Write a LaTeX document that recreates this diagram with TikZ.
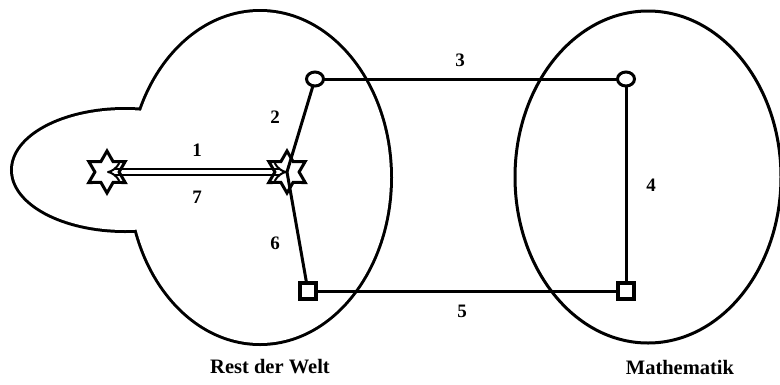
\documentclass[tikz,border=0pt]{standalone}
\usepackage{fontspec}
\setmainfont{Liberation Serif}
\usetikzlibrary{shapes.geometric,arrows.meta}
\newcommand\myhexstar[1]{%
  \draw[starline,shift={(#1)}] (90:21pt) -- (120:12.1pt) -- (150:21pt) -- (180:12.1pt) -- (210:21pt) -- (240:12.1pt)
   -- (270:21pt) -- (300:12.1pt) -- (330:21pt) -- (0:12.1pt) -- (30:21pt) -- (60:12.1pt) -- cycle;}
\begin{document}
\begin{tikzpicture}[x=1pt,y=-1pt,
 outline/.style={line width=6pt},
 conn/.style={line width=3pt},
 starline/.style={line width=3pt,line join=miter},
 circnode/.style={draw,ellipse,fill=white,minimum width=17pt,minimum height=14pt,inner sep=0pt,line width=3pt},
 sqnode/.style={draw,rectangle,fill=white,minimum size=16pt,inner sep=0pt,line width=3.2pt},
 num/.style={font=\fontsize{19}{19}\selectfont\bfseries},
 title/.style={font=\fontsize{20.5}{20.5}\selectfont\bfseries}]
\useasboundingbox (0,0) rectangle (780,384);
% Rest der Welt region (union of two ellipses)
\draw[outline] (125,170) ellipse [x radius=112pt,y radius=60pt];
\draw[outline] (260,177.5) ellipse [x radius=130pt,y radius=165.5pt];
\fill[white] (125,170) ellipse [x radius=112pt,y radius=60pt];
\fill[white] (260,177.5) ellipse [x radius=130pt,y radius=165.5pt];
% Mathematik region
\draw[line width=3pt] (648,177) ellipse [x radius=133pt,y radius=166pt];
% node positions
\coordinate (sL) at (107,172);
\coordinate (sR) at (287,172);
\coordinate (cLp) at (315,79);
\coordinate (cRp) at (626,79);
\coordinate (qLp) at (308,291);
\coordinate (qRp) at (626,291);
% connectors
\draw[double,line width=2pt,double distance=4.5pt,{Implies}-{Implies}] (sL) -- (sR);
\draw[conn] (cLp) -- (sR);
\draw[conn] (sR) -- (qLp);
\draw[conn] (cLp) -- (cRp);
\draw[conn] (cRp) -- (qRp);
\draw[conn] (qLp) -- (qRp);
% stars
\myhexstar{sL}
\myhexstar{sR}
\node[circnode] (cL) at (cLp) {};
\node[circnode] (cR) at (cRp) {};
\node[sqnode] (qL) at (qLp) {};
\node[sqnode] (qR) at (qRp) {};
% labels
\node[num] (l1) at (197,150) {1};
\node[num] (l7) at (197,197) {7};
\node[num] (l2) at (275,117) {2};
\node[num] (l6) at (275,243) {6};
\node[num] (l3) at (460,60) {3};
\node[num] (l4) at (651,185) {4};
\node[num] (l5) at (462,311) {5};
\node[title] (rw) at (270,367) {Rest der Welt};
\node[title] (ma) at (680,367) {Mathematik};
\end{tikzpicture}
\end{document}
